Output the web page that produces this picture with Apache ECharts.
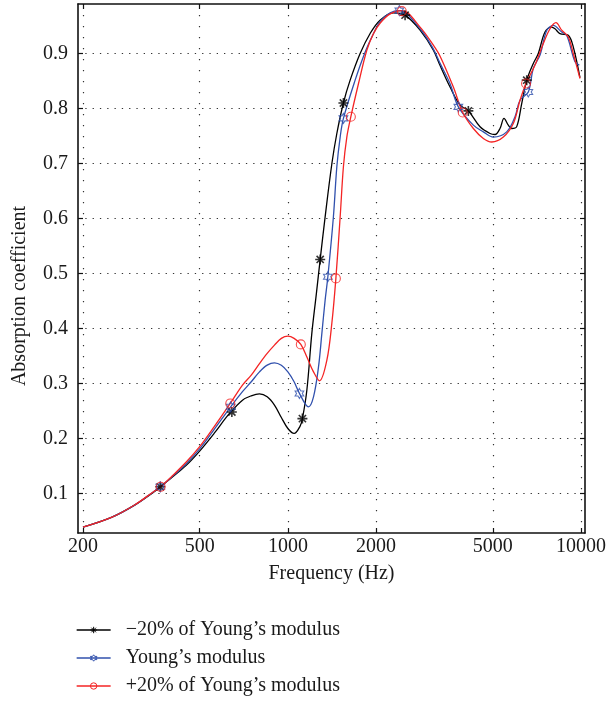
<!DOCTYPE html>
<html><head><meta charset="utf-8">
<script src="https://cdn.jsdelivr.net/npm/echarts@6/dist/echarts.min.js"></script>
<style>html,body{margin:0;padding:0;background:#fff}#c{width:607px;height:701px}</style>
</head><body><div id="c"></div>
<script>
// ---- data (frequency in Hz, absorption coefficient) ----
const seriesNames = ['\u221220% of Young\u2019s modulus', 'Young\u2019s modulus', '+20% of Young\u2019s modulus'];
const xTickValues = [200, 500, 1000, 2000, 5000, 10000];
const yTickValues = [0.1, 0.2, 0.3, 0.4, 0.5, 0.6, 0.7, 0.8, 0.9];

const freqBlack = [200, 250, 300, 350, 367, 400, 450, 500, 560, 630, 700, 750, 800, 850, 900, 950, 1000, 1050, 1100, 1121, 1161, 1207, 1250, 1289, 1340, 1413, 1469, 1547, 1631, 1764, 1908, 2063, 2291, 2511, 2825, 3136, 3306, 3575, 3868, 4128, 4525, 4894, 5090, 5293, 5462, 5650, 5802, 6035, 6277, 6529, 6876, 7151, 7537, 7945, 8153, 8479, 9050, 9411, 9921];
const absBlack = [0.0387, 0.0564, 0.0787, 0.103, 0.112, 0.128, 0.151, 0.177, 0.209, 0.2445, 0.2696, 0.2775, 0.281, 0.2757, 0.2606, 0.238, 0.218, 0.209, 0.222, 0.236, 0.288, 0.391, 0.462, 0.5255, 0.603, 0.700, 0.7545, 0.810, 0.8515, 0.90, 0.9364, 0.9606, 0.9738, 0.9697, 0.9424, 0.906, 0.878, 0.839, 0.806, 0.7956, 0.7667, 0.7545, 0.7527, 0.7636, 0.782, 0.7697, 0.7636, 0.767, 0.809, 0.8515, 0.882, 0.90, 0.939, 0.948, 0.945, 0.936, 0.933, 0.912, 0.856];

const freqBlue = [200, 250, 300, 350, 367, 400, 450, 500, 560, 638, 700, 750, 800, 850, 900, 950, 1000, 1050, 1095, 1175, 1223, 1272, 1306, 1340, 1369, 1430, 1469, 1508, 1547, 1696, 1834, 1958, 2063, 2233, 2401, 2825, 3136, 3306, 3575, 3816, 4293, 4644, 5023, 5580, 5956, 6194, 6611, 6876, 7248, 7639, 8046, 8593, 8937, 9539, 9867];
const absBlue = [0.0387, 0.0564, 0.0787, 0.104, 0.112, 0.129, 0.154, 0.181, 0.216, 0.2575, 0.285, 0.303, 0.321, 0.3333, 0.3375, 0.333, 0.321, 0.303, 0.2818, 0.2575, 0.2757, 0.330, 0.391, 0.4515, 0.494, 0.603, 0.694, 0.748, 0.782, 0.8515, 0.9024, 0.936, 0.958, 0.974, 0.978, 0.945, 0.908, 0.882, 0.845, 0.803, 0.7697, 0.7575, 0.748, 0.7575, 0.785, 0.815, 0.830, 0.873, 0.897, 0.942, 0.951, 0.939, 0.933, 0.885, 0.879];

const freqRed = [200, 250, 300, 350, 368, 400, 450, 500, 560, 636, 700, 750, 800, 850, 900, 950, 1000, 1050, 1107, 1161, 1223, 1282, 1358, 1413, 1458, 1508, 1547, 1589, 1640, 1741, 1859, 1958, 2063, 2233, 2447, 2825, 3136, 3306, 3669, 3950, 4293, 4644, 4960, 5433, 5876, 6194, 6494, 6969, 7437, 7841, 8217, 8593, 9050, 9411, 9921];
const absRed = [0.0387, 0.0564, 0.079, 0.104, 0.112, 0.130, 0.157, 0.185, 0.221, 0.2636, 0.297, 0.315, 0.336, 0.3545, 0.3696, 0.382, 0.386, 0.382, 0.371, 0.348, 0.321, 0.3047, 0.342, 0.41, 0.491, 0.603, 0.694, 0.748, 0.785, 0.845, 0.906, 0.936, 0.955, 0.972, 0.978, 0.948, 0.915, 0.895, 0.839, 0.7927, 0.7636, 0.7455, 0.739, 0.748, 0.7727, 0.815, 0.8455, 0.879, 0.918, 0.945, 0.956, 0.9424, 0.930, 0.900, 0.8545];

const markFreqBlack = [367, 644, 1121, 1289, 1547, 2511, 4128, 6529];
const markAbsBlack = [0.112, 0.248, 0.236, 0.5255, 0.81, 0.9697, 0.7956, 0.8515];
const markFreqBlue = [367, 638, 1095, 1369, 1547, 2401, 3816, 6611];
const markAbsBlue = [0.112, 0.2575, 0.2818, 0.494, 0.782, 0.978, 0.803, 0.830];
const markFreqRed = [368, 636, 1107, 1458, 1640, 2447, 3950, 6494];
const markAbsRed = [0.112, 0.2636, 0.371, 0.491, 0.785, 0.977, 0.7927, 0.8455];

// ---- styling ----
const FONT = '"Liberation Serif", "Times New Roman", serif';
const TXT = '#1a1a1a';
const colors = ['#000000', '#3050ad', '#f42424'];
const ASTER = 'path://M0,-5L0,5M-5,0L5,0M-3.6,-3.6L3.6,3.6M-3.6,3.6L3.6,-3.6';
const HEXA = 'path://M0,-10L2.887,-5L8.66,-5L5.77,0L8.66,5L2.887,5L0,10L-2.887,5L-8.66,5L-5.77,0L-8.66,-5L-2.887,-5Z';
const symbols = [ASTER, HEXA, 'circle'];
const symSizes = [10, 10, 9];
const pairs = (f, v) => f.map((x, i) => [x, v[i]]);
const curves = [pairs(freqBlack, absBlack), pairs(freqBlue, absBlue), pairs(freqRed, absRed)];
const marks = [pairs(markFreqBlack, markAbsBlack), pairs(markFreqBlue, markAbsBlue), pairs(markFreqRed, markAbsRed)];

const X_MIN = 192.3, X_MAX = 10320, Y_MIN = 0.028, Y_MAX = 0.99;
const axisLineStyle = { show: true, lineStyle: { color: '#111', width: 1.6 } };
const tickStyle = (vals) => ({ show: true, inside: true, length: 5, customValues: vals, lineStyle: { color: '#111', width: 1.2 } });

const series = [];
for (let i = 0; i < 3; i++) {
  series.push({
    name: seriesNames[i], type: 'line', data: curves[i], smooth: 0.35,
    showSymbol: false, symbol: symbols[i], symbolSize: symSizes[i],
    lineStyle: { color: colors[i], width: 1.3 },
    itemStyle: { color: 'rgba(0,0,0,0)', borderColor: colors[i], borderWidth: 1 },
    emphasis: { disabled: true }, z: 3 + i
  });
}
for (let i = 0; i < 3; i++) {
  series.push({
    name: 'markers' + i, type: 'scatter', data: marks[i],
    symbol: symbols[i], symbolSize: symSizes[i], symbolKeepAspect: true,
    itemStyle: { color: 'rgba(0,0,0,0)', borderColor: colors[i], borderWidth: i === 0 ? 1.6 : 1.1 },
    emphasis: { disabled: true }, silent: true, z: 6 + i
  });
}

const chart = echarts.init(document.getElementById('c'), null, { renderer: 'canvas' });
chart.setOption({
  animation: false,
  backgroundColor: '#fff',
  textStyle: { fontFamily: FONT },
  grid: { left: 78, right: 22, top: 4, bottom: 168, containLabel: false, outerBoundsMode: 'none' },
  legend: {
    orient: 'vertical', left: 76, top: 620, height: 120, itemWidth: 34, itemHeight: 8, itemGap: 8,
    padding: 0, selectedMode: false,
    textStyle: { fontFamily: FONT, fontSize: 20, color: TXT, lineHeight: 20, padding: [0, 0, 0, 10] },
    data: seriesNames.map((n, i) => ({
      name: n,
      itemStyle: { color: 'rgba(0,0,0,0)', borderColor: colors[i], borderWidth: 1 },
      lineStyle: { color: colors[i], width: 1.3 }
    }))
  },
  xAxis: [{
    type: 'log', logBase: 10, min: X_MIN, max: X_MAX, position: 'bottom',
    name: 'Frequency (Hz)', nameLocation: 'middle', nameGap: 31,
    nameTextStyle: { fontFamily: FONT, fontSize: 20, color: TXT },
    axisLine: axisLineStyle, axisTick: tickStyle(xTickValues),
    minorTick: { show: false },
    axisLabel: { customValues: xTickValues, fontFamily: FONT, fontSize: 20, color: TXT, margin: 4, formatter: v => String(Math.round(v)) },
    splitLine: { show: true, lineStyle: { color: '#333', width: 1.2, type: [1.3, 9.7] } }
  }, {
    type: 'log', logBase: 10, min: X_MIN, max: X_MAX, position: 'top',
    axisLine: axisLineStyle, axisTick: tickStyle(xTickValues),
    axisLabel: { show: false }, splitLine: { show: false }
  }],
  yAxis: [{
    type: 'value', min: Y_MIN, max: Y_MAX, position: 'left',
    name: 'Absorption coefficient', nameLocation: 'middle', nameGap: 48,
    nameTextStyle: { fontFamily: FONT, fontSize: 20, color: TXT, padding: [0, 55, 0, 0] },
    axisLine: axisLineStyle, axisTick: tickStyle(yTickValues),
    axisLabel: { customValues: yTickValues, fontFamily: FONT, fontSize: 20, color: TXT, margin: 10, formatter: v => v.toFixed(1) },
    splitLine: { show: true, lineStyle: { color: '#333', width: 1.2, type: [1.3, 6] } }
  }, {
    type: 'value', min: Y_MIN, max: Y_MAX, position: 'right',
    axisLine: axisLineStyle, axisTick: tickStyle(yTickValues),
    axisLabel: { show: false }, splitLine: { show: false }
  }],
  series: series
});
</script>
</body></html>
